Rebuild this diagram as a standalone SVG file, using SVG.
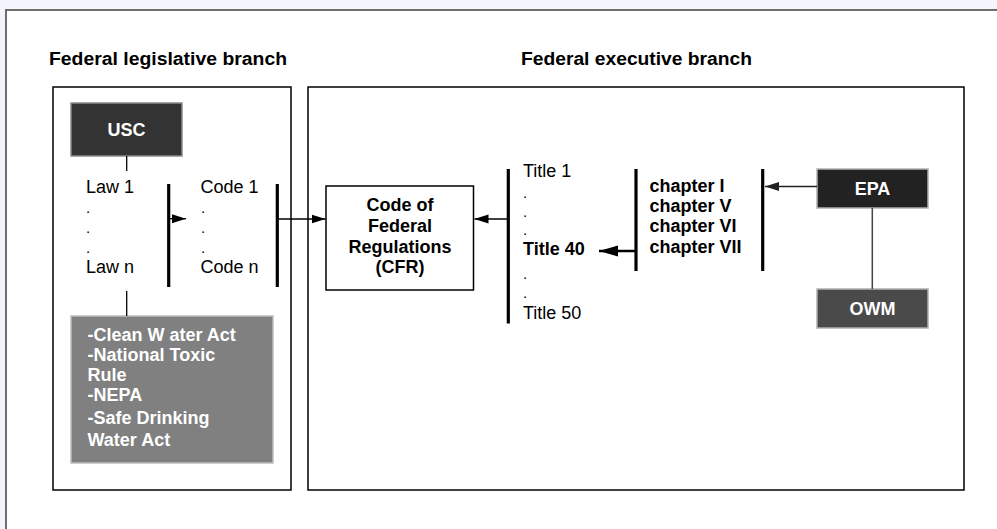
<svg xmlns="http://www.w3.org/2000/svg" width="997" height="529" viewBox="0 0 997 529">
<defs>
<style>
text{font-family:"Liberation Sans",Arial,sans-serif;font-size:18px;fill:#000}
.b{font-weight:bold}
.w{fill:#fff;font-weight:bold}
.c{text-anchor:middle}
.d{font-size:15px}
.box{fill:#fff;stroke:#000;stroke-width:1.5}
.bar{stroke:#000;stroke-width:3.2}
.ln{stroke:#000;stroke-width:1.3;fill:none}
</style>
<marker id="ah" markerUnits="userSpaceOnUse" markerWidth="14" markerHeight="10" refX="14" refY="5" orient="auto">
<path d="M0,0.5 L14,5 L0,9.5 z" fill="#000"/>
</marker>
<marker id="ahb" markerUnits="userSpaceOnUse" markerWidth="19" markerHeight="12" refX="19" refY="6" orient="auto">
<path d="M0,0.5 L19,6 L0,11.5 z" fill="#000"/>
</marker>
<marker id="ahg" markerUnits="userSpaceOnUse" markerWidth="14" markerHeight="10" refX="14" refY="5" orient="auto">
<path d="M0,0.5 L14,5 L0,9.5 z" fill="#222"/>
</marker>
</defs>
<rect x="0" y="0" width="997" height="529" fill="#f4f4fc"/>
<rect x="6" y="10" width="1000" height="530" fill="#fff" stroke="#6e6e6e" stroke-width="2"/>

<g id="legislative">
<text x="49" y="65" class="b" textLength="238" lengthAdjust="spacingAndGlyphs">Federal legislative branch</text>
<rect x="53" y="87" width="238" height="403" class="box"/>
</g>
<g id="executive">
<text x="521" y="65" class="b" textLength="231" lengthAdjust="spacingAndGlyphs">Federal executive branch</text>
<rect x="308" y="87" width="656" height="403" class="box"/>
</g>

<g id="usc">
<rect x="71" y="103" width="111" height="53" fill="#333" stroke="#8a8a8a" stroke-width="1.5"/>
<text x="126.5" y="136" class="w c">USC</text>
</g>

<g id="laws">
<text x="86" y="193">Law 1</text>
<text x="86" y="213" class="d">.</text>
<text x="86" y="233" class="d">.</text>
<text x="86" y="252.5" class="d">.</text>
<text x="86" y="273">Law n</text>
<line x1="168.7" y1="184" x2="168.7" y2="287" class="bar"/>
</g>

<g id="codes">
<text x="200.5" y="193">Code 1</text>
<text x="201" y="213" class="d">.</text>
<text x="201" y="233" class="d">.</text>
<text x="201" y="252.5" class="d">.</text>
<text x="200.5" y="273">Code n</text>
<line x1="277.3" y1="184" x2="277.3" y2="287" class="bar"/>
</g>

<g id="acts">
<rect x="71" y="316" width="202" height="147" fill="#808080" stroke="#bdbdbd" stroke-width="1.5"/>
<text x="87.5" y="341" class="w">-Clean W ater Act</text>
<text x="87.5" y="361" class="w">-National Toxic</text>
<text x="87.5" y="381" class="w">Rule</text>
<text x="87.5" y="401" class="w">-NEPA</text>
<text x="87.5" y="423.5" class="w">-Safe Drinking</text>
<text x="87.5" y="446" class="w">Water Act</text>
</g>

<g id="cfr">
<rect x="326" y="186" width="147.5" height="104" class="box"/>
<text x="400" y="211" class="b c">Code of</text>
<text x="400" y="232" class="b c">Federal</text>
<text x="400" y="252.5" class="b c">Regulations</text>
<text x="400" y="273" class="b c">(CFR)</text>
</g>

<g id="titles">
<line x1="508.3" y1="169" x2="508.3" y2="323.5" class="bar"/>
<text x="523" y="177">Title 1</text>
<text x="523" y="198" class="d">.</text>
<text x="523" y="217" class="d">.</text>
<text x="523" y="235" class="d">.</text>
<text x="523" y="255" class="b">Title 40</text>
<text x="523" y="279" class="d">.</text>
<text x="523" y="298" class="d">.</text>
<text x="523" y="318.5">Title 50</text>
</g>

<g id="chapters">
<line x1="636" y1="169" x2="636" y2="271" class="bar"/>
<line x1="762.7" y1="169" x2="762.7" y2="271" class="bar"/>
<text x="649.5" y="192" class="b">chapter I</text>
<text x="649.5" y="212" class="b">chapter V</text>
<text x="649.5" y="232" class="b">chapter VI</text>
<text x="649.5" y="252.5" class="b">chapter VII</text>
</g>

<g id="epa">
<rect x="817" y="169" width="111" height="39" fill="#222" stroke="#b0b0b0" stroke-width="1.5"/>
<text x="872.5" y="194.5" class="w c">EPA</text>
</g>
<g id="owm">
<rect x="817" y="289" width="111" height="39" fill="#4a4a4a" stroke="#b0b0b0" stroke-width="1.5"/>
<text x="872.5" y="314.5" class="w c">OWM</text>
</g>

<g id="connectors">
<line x1="126.7" y1="156" x2="126.7" y2="171" class="ln"/>
<line x1="126.7" y1="291" x2="126.7" y2="316" class="ln"/>
<line x1="170" y1="218.7" x2="186" y2="218.7" class="ln" marker-end="url(#ah)"/>
<line x1="279" y1="219" x2="325.5" y2="219" class="ln" marker-end="url(#ah)"/>
<line x1="507" y1="219" x2="474.5" y2="219" class="ln" marker-end="url(#ah)"/>
<line x1="635" y1="251" x2="599" y2="251" stroke="#000" stroke-width="2.6" marker-end="url(#ahb)"/>
<line x1="817" y1="186.5" x2="765" y2="186.5" stroke="#222" stroke-width="1.5" marker-end="url(#ahg)"/>
<line x1="872.3" y1="208" x2="872.3" y2="289" stroke="#444" stroke-width="1.5"/>
</g>
</svg>
